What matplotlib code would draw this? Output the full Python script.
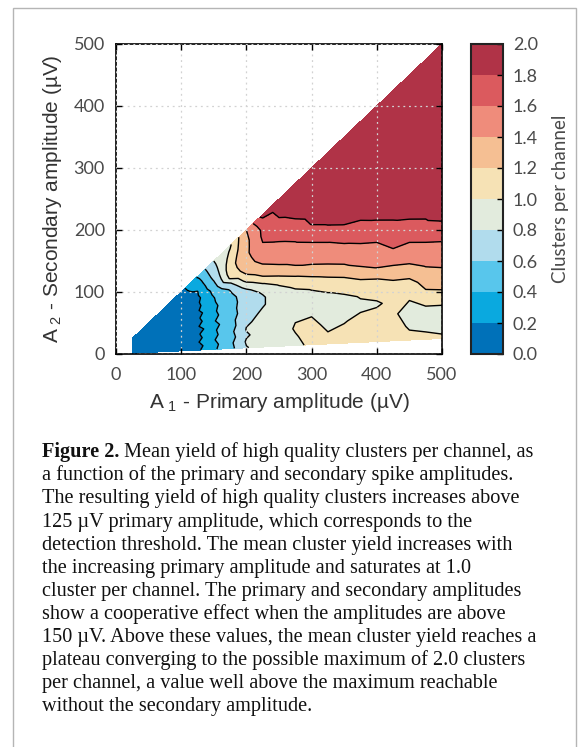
import numpy as np
import matplotlib
matplotlib.use("Agg")
import matplotlib.pyplot as plt
from matplotlib.patches import Rectangle

# primary amplitude (uV) and secondary/primary ratio of the sampling grid
a1 = [25, 50, 75, 100, 125, 150, 175, 200, 225, 250,
      275, 300, 325, 350, 375, 400, 425, 450, 475, 500]
ratio = [0.05, 0.10, 0.15, 0.20, 0.25, 0.30, 0.35, 0.40, 0.45, 0.50,
         0.55, 0.60, 0.65, 0.70, 0.75, 0.80, 0.85, 0.90, 0.95, 1.00]

# mean clusters per channel, one row per a1 value, columns follow ratio
yield_grid = [
    [0.02, 0.02, 0.03, 0.02, 0.03, 0.02, 0.02, 0.03, 0.02, 0.03, 0.02, 0.02, 0.03, 0.02, 0.03, 0.02, 0.03, 0.02, 0.03, 0.03],
    [0.03, 0.04, 0.03, 0.04, 0.03, 0.04, 0.03, 0.04, 0.04, 0.03, 0.04, 0.03, 0.04, 0.03, 0.04, 0.04, 0.03, 0.04, 0.04, 0.05],
    [0.05, 0.06, 0.05, 0.06, 0.05, 0.06, 0.05, 0.06, 0.06, 0.05, 0.06, 0.05, 0.06, 0.06, 0.05, 0.06, 0.06, 0.07, 0.07, 0.08],
    [0.08, 0.07, 0.09, 0.08, 0.07, 0.09, 0.08, 0.07, 0.09, 0.08, 0.08, 0.09, 0.08, 0.09, 0.09, 0.10, 0.10, 0.11, 0.12, 0.13],
    [0.16, 0.13, 0.18, 0.14, 0.17, 0.12, 0.18, 0.14, 0.17, 0.13, 0.18, 0.15, 0.17, 0.14, 0.18, 0.19, 0.24, 0.29, 0.35, 0.42],
    [0.37, 0.34, 0.39, 0.35, 0.38, 0.33, 0.39, 0.35, 0.38, 0.36, 0.38, 0.39, 0.43, 0.47, 0.55, 0.62, 0.68, 0.73, 0.77, 0.80],
    [0.53, 0.55, 0.51, 0.54, 0.50, 0.53, 0.49, 0.52, 0.50, 0.52, 0.56, 0.62, 0.78, 1.03, 1.10, 1.12, 1.10, 1.06, 1.02, 0.97],
    [0.79, 0.82, 0.78, 0.81, 0.78, 0.75, 0.73, 0.72, 0.72, 0.73, 0.88, 1.08, 1.22, 1.30, 1.33, 1.36, 1.35, 1.35, 1.37, 1.40],
    [0.86, 0.88, 0.87, 0.86, 0.84, 0.82, 0.79, 0.78, 0.82, 0.98, 1.18, 1.31, 1.41, 1.49, 1.55, 1.60, 1.63, 1.64, 1.72, 1.88],
    [0.90, 0.91, 0.89, 0.90, 0.88, 0.86, 0.85, 0.90, 1.02, 1.19, 1.34, 1.45, 1.51, 1.57, 1.63, 1.69, 1.77, 1.82, 1.85, 1.88],
    [0.93, 0.98, 1.02, 0.99, 0.92, 0.90, 0.93, 1.04, 1.18, 1.36, 1.46, 1.53, 1.59, 1.65, 1.74, 1.81, 1.85, 1.88, 1.90, 1.92],
    [1.06, 1.08, 1.05, 1.00, 0.92, 0.94, 1.01, 1.15, 1.31, 1.45, 1.52, 1.60, 1.70, 1.81, 1.84, 1.87, 1.89, 1.91, 1.92, 1.93],
    [1.05, 1.01, 0.96, 0.90, 0.92, 0.99, 1.10, 1.26, 1.41, 1.50, 1.59, 1.72, 1.82, 1.86, 1.88, 1.90, 1.91, 1.92, 1.93, 1.94],
    [1.06, 1.04, 0.99, 0.93, 0.96, 1.04, 1.19, 1.37, 1.48, 1.58, 1.69, 1.81, 1.86, 1.88, 1.90, 1.91, 1.92, 1.93, 1.94, 1.95],
    [1.08, 1.10, 1.04, 0.97, 1.01, 1.12, 1.32, 1.47, 1.55, 1.65, 1.76, 1.84, 1.88, 1.90, 1.91, 1.92, 1.93, 1.94, 1.95, 1.95],
    [1.08, 1.10, 1.06, 0.98, 1.05, 1.19, 1.41, 1.51, 1.60, 1.72, 1.82, 1.87, 1.90, 1.91, 1.92, 1.93, 1.94, 1.94, 1.95, 1.96],
    [1.10, 1.07, 1.02, 1.04, 1.10, 1.27, 1.45, 1.60, 1.70, 1.79, 1.85, 1.88, 1.90, 1.91, 1.92, 1.93, 1.94, 1.95, 1.95, 1.96],
    [1.05, 0.98, 0.95, 1.01, 1.12, 1.32, 1.49, 1.60, 1.74, 1.83, 1.87, 1.90, 1.91, 1.92, 1.93, 1.94, 1.95, 1.95, 1.96, 1.96],
    [1.04, 0.96, 0.95, 1.15, 1.28, 1.41, 1.53, 1.65, 1.79, 1.85, 1.88, 1.90, 1.91, 1.92, 1.93, 1.94, 1.95, 1.95, 1.96, 1.96],
    [1.02, 0.95, 0.97, 1.18, 1.32, 1.46, 1.56, 1.72, 1.86, 1.88, 1.90, 1.91, 1.92, 1.93, 1.94, 1.95, 1.95, 1.96, 1.96, 1.96],
]

levels = [0.0, 0.2, 0.4, 0.6, 0.8, 1.0, 1.2, 1.4, 1.6, 1.8, 2.0]
level_colors = ["#0071b9", "#0aa9df", "#58c6ec", "#b1dced", "#e2ebdd",
                "#f6e2b5", "#f5bf93", "#ef8c7b", "#db5a5e", "#b03347"]
axis_ticks = [0, 100, 200, 300, 400, 500]

caption_head = "Figure 2."
caption_lines = [
    " Mean yield of high quality clusters per channel, as",
    "a function of the primary and secondary spike amplitudes.",
    "The resulting yield of high quality clusters increases above",
    "125 \u00b5V primary amplitude, which corresponds to the",
    "detection threshold. The mean cluster yield increases with",
    "the increasing primary amplitude and saturates at 1.0",
    "cluster per channel. The primary and secondary amplitudes",
    "show a cooperative effect when the amplitudes are above",
    "150 \u00b5V. Above these values, the mean cluster yield reaches a",
    "plateau converging to the possible maximum of 2.0 clusters",
    "per channel, a value well above the maximum reachable",
    "without the secondary amplitude.",
]

W, H = 581, 747
fig = plt.figure(figsize=(W / 100, H / 100), dpi=100)

# thin grey frame around the whole figure block
fig.patches.append(Rectangle((13 / W, -0.05), (576 - 13) / W, 1.05 - 8 / H,
                             transform=fig.transFigure, fill=False,
                             edgecolor="#b5b5b5", linewidth=1.0))

ax = fig.add_axes([116 / W, 1 - 354 / H, 326 / W, 310 / H])

A1 = np.array(a1, dtype=float)[:, None] * np.ones((1, len(ratio)))
A2 = np.array(a1, dtype=float)[:, None] * np.array(ratio)[None, :]
Z = np.array(yield_grid)

cf = ax.contourf(A1, A2, Z, levels=levels, colors=level_colors)
ax.contour(A1, A2, Z, levels=levels[1:-1], colors="black", linewidths=1.0)

ax.set_xlim(0, 500)
ax.set_ylim(0, 500)
ax.set_xticks(axis_ticks)
ax.set_yticks(axis_ticks)
ax.grid(True, color="#d2d2d2", linestyle=(0, (1.5, 3)), linewidth=0.9)
ax.set_axisbelow(False)
for s in ax.spines.values():
    s.set_linewidth(1.2)
ax.tick_params(direction="in", length=4, width=1, top=True, right=True,
               labelsize=13, labelcolor="#4a4a4a")
ax.tick_params(axis="x", pad=9)
ax.tick_params(axis="y", pad=8)
for lab in ax.get_xticklabels() + ax.get_yticklabels():
    lab.set_fontfamily("Lato")

lab_font = dict(family="Liberation Sans", size=15, color="#333333")
ax.set_xlabel("A$_{\\ \\mathregular{1}}$ - Primary amplitude (\u00b5V)", labelpad=6, **lab_font)
ax.set_ylabel("A$_{\\ \\mathregular{2}}$ - Secondary amplitude (\u00b5V)", labelpad=7, **lab_font)

cax = fig.add_axes([471 / W, 1 - 354 / H, 32 / W, 310 / H])
cb = fig.colorbar(cf, cax=cax, ticks=levels)
cb.outline.set_linewidth(1.5)
cb.outline.set_edgecolor("#222222")
cax.tick_params(direction="in", length=4, width=1, labelsize=13,
                labelcolor="#4a4a4a", pad=7)
cax.set_yticklabels(["%.1f" % v for v in levels], family="Lato")
cb.set_label("Clusters per channel", family="Lato", size=13.5,
             color="#4a4a4a", labelpad=10)

# caption below the chart
cap_x = 41.5 / W
cap_font = dict(family="Liberation Serif", size=14.6, color="#111111")
head = fig.text(cap_x, 1 - 457.3 / H, caption_head, weight="bold",
                va="baseline", **cap_font)
fig.canvas.draw()
bb = head.get_window_extent(renderer=fig.canvas.get_renderer())
for i, line in enumerate(caption_lines):
    x = bb.x1 / W if i == 0 else cap_x
    fig.text(x, 1 - (457.3 + 23.1 * i) / H, line, va="baseline", **cap_font)

fig.savefig("out.png", dpi=100)
